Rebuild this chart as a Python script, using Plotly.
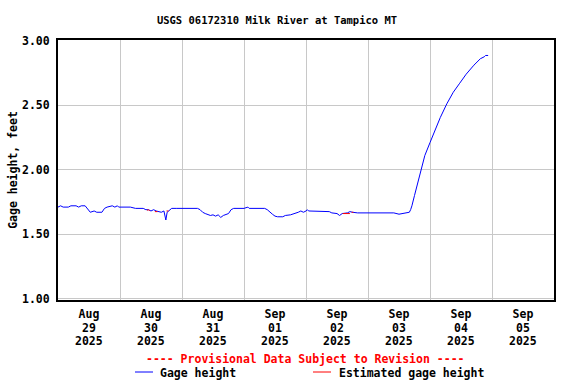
import plotly.graph_objects as go

# ---- data ----
gage_times = [
    "2025-08-29 00:00", "2025-08-29 01:00", "2025-08-29 02:00", "2025-08-29 04:00", "2025-08-29 05:00",
    "2025-08-29 07:00", "2025-08-29 08:00", "2025-08-29 09:00", "2025-08-29 10:30", "2025-08-29 11:30",
    "2025-08-29 12:30", "2025-08-29 14:00", "2025-08-29 15:00", "2025-08-29 17:00", "2025-08-29 18:00",
    "2025-08-29 19:00", "2025-08-29 21:00", "2025-08-29 22:00", "2025-08-29 23:00", "2025-08-29 23:30",
    "2025-08-30 00:00", "2025-08-30 04:00", "2025-08-30 06:00", "2025-08-30 09:00", "2025-08-30 10:00",
    "2025-08-30 11:00", "2025-08-30 12:00", "2025-08-30 13:00", "2025-08-30 14:00", "2025-08-30 15:00",
    "2025-08-30 16:00", "2025-08-30 17:00", "2025-08-30 17:45", "2025-08-30 18:15", "2025-08-30 19:00",
    "2025-08-30 20:00", "2025-08-30 22:00",
    "2025-08-31 00:00", "2025-08-31 06:00", "2025-08-31 07:00", "2025-08-31 08:00", "2025-08-31 09:00",
    "2025-08-31 10:00", "2025-08-31 11:00", "2025-08-31 12:00", "2025-08-31 13:00", "2025-08-31 14:00",
    "2025-08-31 15:00", "2025-08-31 16:00", "2025-08-31 17:00", "2025-08-31 18:00", "2025-08-31 19:00",
    "2025-08-31 20:00",
    "2025-09-01 00:00", "2025-09-01 01:30", "2025-09-01 02:00", "2025-09-01 08:00", "2025-09-01 09:00",
    "2025-09-01 10:00", "2025-09-01 11:00", "2025-09-01 12:00", "2025-09-01 13:00", "2025-09-01 15:00",
    "2025-09-01 16:00", "2025-09-01 18:00", "2025-09-01 19:00", "2025-09-01 20:00", "2025-09-01 21:00",
    "2025-09-01 22:00", "2025-09-01 23:00",
    "2025-09-02 00:00", "2025-09-02 00:30", "2025-09-02 01:00", "2025-09-02 05:00", "2025-09-02 09:00",
    "2025-09-02 10:00", "2025-09-02 12:00", "2025-09-02 13:00", "2025-09-02 14:00", "2025-09-02 16:00",
    "2025-09-02 17:00", "2025-09-02 18:00", "2025-09-02 20:00",
    "2025-09-03 00:00", "2025-09-03 06:00", "2025-09-03 08:00", "2025-09-03 10:00", "2025-09-03 12:00",
    "2025-09-03 14:00", "2025-09-03 15:00", "2025-09-03 16:00", "2025-09-03 16:30", "2025-09-03 17:00",
    "2025-09-03 18:00", "2025-09-03 19:30", "2025-09-03 20:45", "2025-09-03 22:00",
    "2025-09-04 00:00", "2025-09-04 02:00", "2025-09-04 04:00", "2025-09-04 06:30", "2025-09-04 09:00",
    "2025-09-04 11:30", "2025-09-04 14:00", "2025-09-04 17:00", "2025-09-04 19:30", "2025-09-04 21:00",
    "2025-09-04 21:30", "2025-09-04 22:30",
]
gage_values = [
    1.71, 1.72, 1.71, 1.71, 1.72,
    1.72, 1.71, 1.72, 1.72, 1.69,
    1.67, 1.68, 1.67, 1.67, 1.70,
    1.71, 1.72, 1.71, 1.72, 1.71,
    1.71, 1.71, 1.70, 1.70, 1.69,
    1.69, 1.68, 1.69, 1.68, 1.675,
    1.67, 1.68, 1.61, 1.67, 1.68,
    1.70, 1.70,
    1.70, 1.70, 1.69, 1.67, 1.66,
    1.65, 1.645, 1.65, 1.64, 1.65,
    1.63, 1.645, 1.65, 1.66, 1.69,
    1.70,
    1.70, 1.71, 1.70, 1.70, 1.69,
    1.67, 1.655, 1.64, 1.635, 1.635,
    1.645, 1.65, 1.655, 1.66, 1.67,
    1.68, 1.67,
    1.68, 1.69, 1.68, 1.68, 1.675,
    1.665, 1.66, 1.645, 1.66, 1.665,
    1.675, 1.67, 1.665,
    1.665, 1.665, 1.66, 1.665, 1.655,
    1.665, 1.665, 1.67, 1.69, 1.72,
    1.80, 1.915, 2.005, 2.11,
    2.21, 2.315, 2.405, 2.51, 2.60,
    2.67, 2.74, 2.81, 2.86, 2.875,
    2.885, 2.885,
]

est_times = [
    "2025-08-30 10:30", "2025-08-30 11:00", "2025-08-30 11:30", None,
    "2025-08-30 13:30", "2025-08-30 14:30", None,
    "2025-08-30 18:00", "2025-08-30 18:45", None,
    "2025-09-02 14:15", "2025-09-02 17:00", None,
    "2025-09-02 17:40", "2025-09-02 18:20",
]
est_values = [
    1.685, 1.69, 1.68, None,
    1.675, 1.675, None,
    1.68, 1.68, None,
    1.66, 1.66, None,
    1.67, 1.67,
]

tick_days = ["2025-08-29", "2025-08-30", "2025-08-31", "2025-09-01",
             "2025-09-02", "2025-09-03", "2025-09-04", "2025-09-05"]
tick_months = ["Aug", "Aug", "Aug", "Sep", "Sep", "Sep", "Sep", "Sep"]
tick_daynums = ["29", "30", "31", "01", "02", "03", "04", "05"]
tick_years = ["2025"] * 8
y_ticks = [1.0, 1.5, 2.0, 2.5, 3.0]

title_text = "USGS 06172310 Milk River at Tampico MT"
y_title = "Gage height, feet"
provisional_text = "---- Provisional Data Subject to Revision ----"
legend_names = ["Gage height", "Estimated gage height"]

FONT = "DejaVu Sans Mono"
W, H = 576, 384
L, R, T, B = 58, 22, 40, 84
pw, ph = W - L - R, H - T - B


def px(x):
    return (x - L) / pw


def py(y):
    return (H - B - y) / ph


fig = go.Figure()
fig.add_trace(go.Scatter(x=gage_times, y=gage_values, mode="lines",
                         line=dict(color="#0000ff", width=1), name=legend_names[0],
                         showlegend=False))
fig.add_trace(go.Scatter(x=est_times, y=est_values, mode="lines",
                         line=dict(color="#ff0000", width=1), name=legend_names[1],
                         showlegend=False, connectgaps=False))

fig.update_layout(
    width=W, height=H,
    margin=dict(l=L, r=R, t=T, b=B, autoexpand=False),
    paper_bgcolor="white", plot_bgcolor="white",
    font=dict(family=FONT, size=11.5, color="black", weight="bold"),
    title=dict(text=title_text, x=277 / W, xanchor="center", y=1 - 20 / H, yanchor="middle",
               font=dict(family=FONT, size=10.5, color="black", weight="bold")),
    showlegend=False,
)

fig.update_xaxes(
    type="date",
    range=["2025-08-29 00:00", "2025-09-06 00:00"],
    tickvals=[d + " 12:00" for d in tick_days],
    ticktext=tick_months,
    showgrid=False, automargin=False,
    ticks="", ticklabelstandoff=2,
    showline=True, linecolor="black", linewidth=2, mirror=True,
    zeroline=False,
    minor=dict(showgrid=True, gridcolor="#c8c8c8", gridwidth=1,
               tick0="2025-08-29", dtick=86400000, ticks=""),
)
fig.update_yaxes(
    range=[0.99, 3.005],
    tickvals=y_ticks,
    tickformat=".2f",
    showgrid=True, gridcolor="#c8c8c8", gridwidth=1, automargin=False,
    ticks="", ticklabelstandoff=4,
    showline=True, linecolor="black", linewidth=2, mirror=True,
    zeroline=False,
    title=dict(text=y_title, standoff=2, font=dict(family=FONT, size=11.5, weight="bold")),
)

# second and third lines of the date labels, placed on the x data scale
for d, dn, yr in zip(tick_days, tick_daynums, tick_years):
    for txt, ypix in ((dn, 327.5), (yr, 341)):
        fig.add_annotation(text=txt, x=d + " 12:00", xref="x", yref="paper",
                           y=py(ypix), xanchor="center", yanchor="middle", showarrow=False,
                           font=dict(family=FONT, size=11.5, color="black", weight="bold"))

# provisional note
fig.add_annotation(text=provisional_text, xref="paper", yref="paper",
                   x=px(305), y=py(359), xanchor="center", yanchor="middle",
                   showarrow=False, font=dict(family=FONT, size=11.5, color="#ff0000", weight="bold"))

# manual legend
legend_items = [(135, 153, 158, "#0000ff", legend_names[0]),
                (313, 331, 337, "#ff0000", legend_names[1])]
for x0, x1, xt, col, name in legend_items:
    fig.add_shape(type="line", xref="paper", yref="paper",
                  x0=px(x0), x1=px(x1), y0=py(372), y1=py(372),
                  line=dict(color=col, width=1))
    fig.add_annotation(text=name, xref="paper", yref="paper",
                       x=px(xt), y=py(373), xanchor="left", yanchor="middle",
                       showarrow=False, font=dict(family=FONT, size=11.5, color="black", weight="bold"))

fig.write_html("out.html", config={"displayModeBar": False},
               post_script="document.body.style.margin='0';")
